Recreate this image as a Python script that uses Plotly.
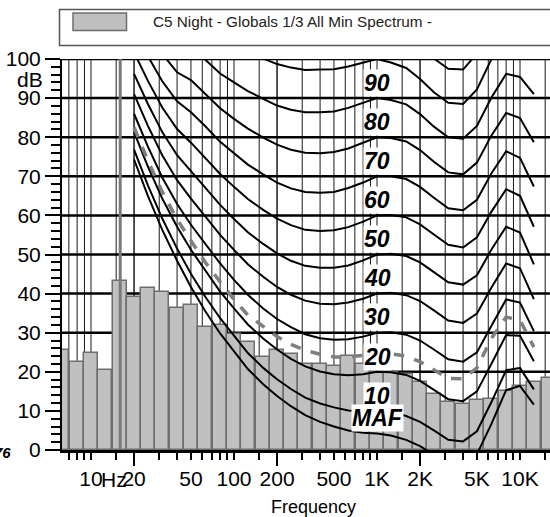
import math
import plotly.graph_objects as go

# ---------------- data ----------------
band_freqs = [6.3, 8, 10, 12.5, 16, 20, 25, 31.5, 40, 50, 63, 80, 100, 125, 160, 200,
              250, 315, 400, 500, 630, 800, 1000, 1250, 1600, 2000, 2500, 3150, 4000,
              5000, 6300, 8000, 10000, 12500, 16000]
band_levels = [25.5, 22.5, 24.8, 20.5, 43.2, 39.1, 41.4, 40.3, 36.2, 37.2, 31.4, 32.0,
               29.7, 27.6, 23.9, 25.6, 24.6, 22.0, 21.9, 21.4, 24.0, 22.0, 19.9, 19.9,
               19.5, 17.3, 14.4, 12.4, 11.8, 12.8, 13.1, 15.0, 16.3, 17.5, 18.4]

contour_freqs = [20, 25, 31.5, 40, 50, 63, 80, 100, 125, 160, 200, 250, 315, 400, 500,
                 630, 800, 1000, 1250, 1600, 2000, 2500, 3150, 4000, 5000, 6300, 8000,
                 10000, 12500]
maf = [74.3, 65.0, 56.3, 48.4, 41.7, 35.5, 29.8, 25.1, 20.7, 16.8, 13.8, 11.2, 8.9, 7.2,
       6.0, 5.0, 4.4, 4.2, 3.7, 2.6, 1.0, -1.2, -3.6, -3.9, -1.1, 6.6, 15.3, 16.4, 11.6]
phon_10 = [76.8, 67.7, 59.2, 51.5, 45.1, 39.2, 33.7, 29.1, 24.8, 21.0, 18.1, 15.6, 13.4,
           11.9, 10.9, 10.1, 9.9, 10.0, 9.7, 8.7, 7.2, 5.0, 2.6, 2.2, 4.8, 12.2, 20.4,
           21.0, 15.5]
phon_20 = [81.3, 72.5, 64.3, 57.1, 51.2, 45.8, 40.5, 36.2, 32.1, 28.5, 25.7, 23.3, 21.4,
           20.1, 19.4, 19.1, 19.4, 20.0, 19.9, 19.2, 17.7, 15.4, 13.0, 12.5, 15.0, 22.0,
           29.4, 29.2, 22.7]
phon_30 = [86.0, 77.6, 69.7, 62.9, 57.6, 52.6, 47.7, 43.5, 39.7, 36.2, 33.5, 31.4, 29.6,
           28.6, 28.2, 28.3, 29.0, 30.0, 30.1, 29.5, 28.0, 25.7, 23.2, 22.6, 25.0, 31.7,
           38.5, 37.7, 30.4]
phon_40 = [91.0, 82.9, 75.4, 69.0, 64.3, 59.7, 55.0, 51.2, 47.5, 44.3, 41.7, 39.7, 38.2,
           37.4, 37.3, 37.7, 38.7, 40.0, 40.2, 39.6, 38.1, 35.7, 33.1, 32.5, 34.9, 41.5,
           47.7, 46.5, 38.6]
phon_50 = [96.2, 88.5, 81.3, 75.4, 71.3, 67.1, 62.7, 59.1, 55.7, 52.7, 50.3, 48.4, 47.1,
           46.6, 46.6, 47.2, 48.5, 50.0, 50.2, 49.6, 48.0, 45.5, 42.9, 42.3, 44.7, 51.2,
           57.1, 55.6, 47.5]
phon_60 = [101.7, 94.4, 87.6, 82.1, 78.6, 74.8, 70.6, 67.3, 64.2, 61.4, 59.2, 57.5, 56.3,
           56.0, 56.2, 57.0, 58.4, 60.0, 60.1, 59.5, 57.7, 55.1, 52.5, 51.8, 54.4, 60.9,
           66.7, 65.0, 57.1]
phon_70 = [107.6, 100.7, 94.3, 89.2, 86.4, 82.8, 78.8, 75.8, 73.0, 70.5, 68.4, 66.9, 66.0,
           65.8, 66.0, 67.0, 68.4, 70.0, 70.0, 69.3, 67.3, 64.5, 61.8, 61.3, 64.0, 70.7,
           76.4, 74.7, 67.4]
phon_80 = [113.7, 107.3, 101.3, 96.6, 94.6, 91.1, 87.4, 84.7, 82.2, 79.9, 78.1, 76.8, 76.0,
           75.9, 76.2, 77.1, 78.5, 80.0, 79.8, 78.9, 76.7, 73.7, 71.0, 70.5, 73.5, 80.4,
           86.2, 84.9, 78.7]
phon_90 = [120.3, 114.4, 108.7, 104.4, 103.2, 99.8, 96.3, 94.0, 91.8, 89.8, 88.1, 87.0,
           86.4, 86.4, 86.6, 87.5, 88.7, 90.0, 89.5, 88.4, 85.9, 82.7, 80.0, 79.6, 82.9,
           90.1, 96.2, 95.4, 91.0]
phon_100 = [127.2, 121.9, 116.6, 112.6, 112.3, 108.9, 105.6, 103.6, 101.8, 100.1, 98.7,
            97.8, 97.2, 97.3, 97.4, 98.1, 99.0, 100.0, 99.1, 97.7, 94.9, 91.5, 88.8, 88.5,
            92.2, 99.9, 106.4, 106.4, 104.5]
phon_110 = [134.6, 129.8, 125.0, 121.3, 121.9, 118.4, 115.3, 113.7, 112.3, 110.9, 109.7,
            109.0, 108.6, 108.6, 108.6, 109.0, 109.5, 110.0, 108.6, 107.0, 103.8, 100.1,
            97.5, 97.3, 101.4, 109.6, 116.7, 117.8, 119.3]
dashed_curve = [82.5, 74.0, 66.0, 59.0, 53.5, 48.0, 43.0, 38.5, 34.5, 31.5, 29.0, 27.0,
                25.5, 24.5, 23.8, 23.8, 24.2, 24.5, 24.6, 24.0, 22.6, 20.5, 18.3, 18.2,
                21.0, 28.5, 34.0, 33.2, 26.3]

curve_labels = ["90", "80", "70", "60", "50", "40", "30", "20", "10", "MAF"]
curve_label_levels = [90, 80, 70, 60, 50, 40, 30, 20, 10, 4.3]

major_tick_freqs = [10, 20, 50, 100, 200, 500, 1000, 2000, 5000, 10000]
major_tick_text = ["10", "20", "50", "100", "200", "500", "1K", "2K", "5K", "10K"]
minor_tick_freqs = [7, 8, 9, 15, 30, 40, 60, 70, 80, 90, 150, 300, 400, 600, 700, 800, 900,
                    1500, 3000, 4000, 6000, 7000, 8000, 9000, 15000]
long_tick_freqs = [2, 20, 200, 2000, 20000]

y_ticks = [0, 10, 20, 30, 40, 50, 60, 70, 80, 90, 100]
marker_freq = 16
legend_text = "C5 Night - Globals 1/3 All Min Spectrum -"

# ---------------- geometry ----------------
W, H = 550, 517
ML, MR, MT, MB = 62, 0, 59, 67
PW, PH = W - ML - MR, H - MT - MB
lg = math.log10
X0 = 3 + (ML - 377) / 143.0
X1 = 3 + (W - 377) / 143.0


def px(x):
    return (x - ML) / PW


def py(y):
    return (H - MB - y) / PH


fig = go.Figure()

shapes = []
for f in minor_tick_freqs + major_tick_freqs + long_tick_freqs:
    shapes.append(dict(type="line", xref="x", yref="y", x0=lg(f), x1=lg(f), y0=0, y1=100,
                       line=dict(color="#1a1a1a", width=1), layer="below"))
for yv in range(10, 101, 10):
    shapes.append(dict(type="line", xref="x", yref="y", x0=X0, x1=X1, y0=yv, y1=yv,
                       line=dict(color="black", width=2.5), layer="below"))

# bars
fig.add_trace(go.Bar(
    x=[lg(f) for f in band_freqs], y=band_levels, width=0.1,
    marker=dict(color="#c0c0c0", line=dict(color="#6e6e6e", width=1.5)),
    showlegend=False, hoverinfo="skip"))

# 16 Hz marker line
fig.add_trace(go.Scatter(x=[lg(marker_freq)] * 2, y=[0, 100], mode="lines",
                         line=dict(color="#7a7a7a", width=3), showlegend=False))

# contours
lx = [lg(f) for f in contour_freqs]
for c in [phon_110, phon_100, phon_90, phon_80, phon_70, phon_60, phon_50, phon_40,
          phon_30, phon_20, phon_10, maf]:
    fig.add_trace(go.Scatter(x=lx, y=c, mode="lines", line=dict(color="black", width=2),
                             showlegend=False))
fig.add_trace(go.Scatter(x=lx, y=dashed_curve, mode="lines",
                         line=dict(color="#7f7f7f", width=3.5, dash="dash"),
                         showlegend=False))

# second x axis for long ticks
fig.add_trace(go.Scatter(x=[X0], y=[0], xaxis="x2", mode="markers",
                         marker=dict(opacity=0), showlegend=False, hoverinfo="skip"))

annotations = []
for t, v in zip(curve_labels, curve_label_levels):
    annotations.append(dict(x=3, y=v + 3.9, xref="x", yref="y", text="<b><i>%s</i></b>" % t,
                            showarrow=False, font=dict(family="Liberation Sans", size=23,
                                                       color="black"),
                            bgcolor="white", borderpad=0, xanchor="center", yanchor="middle"))
annotations.append(dict(x=px(45), y=py(79), xref="paper", yref="paper", text="dB",
                        showarrow=False, xanchor="right", yanchor="middle",
                        font=dict(family="Liberation Sans", size=21, color="black")))
annotations.append(dict(x=px(99), y=py(479), xref="paper", yref="paper", text="Hz",
                        showarrow=False, xanchor="left", yanchor="middle",
                        font=dict(family="Liberation Sans", size=21, color="black")))
annotations.append(dict(x=px(313), y=py(507), xref="paper", yref="paper", text="Frequency",
                        showarrow=False, xanchor="center", yanchor="middle",
                        font=dict(family="Liberation Sans", size=18, color="black")))
annotations.append(dict(x=px(13), y=py(452), xref="paper", yref="paper",
                        text="<b><i>76</i></b>", showarrow=False, xanchor="right",
                        yanchor="middle",
                        font=dict(family="Liberation Sans", size=15, color="black")))
annotations.append(dict(x=px(151), y=py(21.5), xref="paper", yref="paper", text=legend_text,
                        showarrow=False, xanchor="left", yanchor="middle",
                        font=dict(family="Liberation Sans", size=15.3, color="#222222")))

# legend box
shapes.append(dict(type="rect", xref="paper", yref="paper", x0=px(59.5), x1=px(560),
                   y0=py(45.5), y1=py(9.5), line=dict(color="#555555", width=1.5),
                   fillcolor="white", layer="above"))
shapes.append(dict(type="rect", xref="paper", yref="paper", x0=px(73), x1=px(126.5),
                   y0=py(30.5), y1=py(13), line=dict(color="#6e6e6e", width=1.5),
                   fillcolor="#c0c0c0", layer="above"))

y_minor = [v for v in range(0, 101, 2) if v % 10]

fig.update_layout(
    width=W, height=H, margin=dict(l=ML, r=MR, t=MT, b=MB),
    paper_bgcolor="white", plot_bgcolor="white",
    shapes=shapes, annotations=annotations, bargap=0,
    font=dict(family="Liberation Sans", color="black"),
    xaxis=dict(range=[X0, X1], showgrid=False, zeroline=False,
               tickmode="array", tickvals=[lg(f) for f in major_tick_freqs],
               ticktext=major_tick_text, ticks="outside", ticklen=7, tickwidth=1.5,
               tickcolor="black", tickfont=dict(size=21, family="Liberation Sans"),
               showline=True, linecolor="black", linewidth=2.5,
               minor=dict(tickmode="array", tickvals=[lg(f) for f in minor_tick_freqs],
                          ticks="outside", ticklen=7, tickwidth=1.5, tickcolor="black",
                          showgrid=False),
               ticklabelstandoff=1),
    xaxis2=dict(range=[X0, X1], overlaying="x", side="bottom", showgrid=False,
                zeroline=False, tickmode="array", tickvals=[lg(f) for f in long_tick_freqs],
                ticktext=[""] * len(long_tick_freqs), ticks="outside", ticklen=15,
                tickwidth=1.5, tickcolor="black", showline=False),
    yaxis=dict(range=[0, 100], showgrid=False, zeroline=False,
               tickmode="array", tickvals=y_ticks, ticktext=[str(v) for v in y_ticks],
               ticks="outside", ticklen=15, tickwidth=1.5, tickcolor="black",
               tickfont=dict(size=21, family="Liberation Sans"),
               showline=True, linecolor="black", linewidth=2,
               minor=dict(tickmode="array", tickvals=y_minor, ticks="outside", ticklen=9,
                          tickwidth=1.5, tickcolor="black", showgrid=False)),
)

fig.write_html("out.html")
